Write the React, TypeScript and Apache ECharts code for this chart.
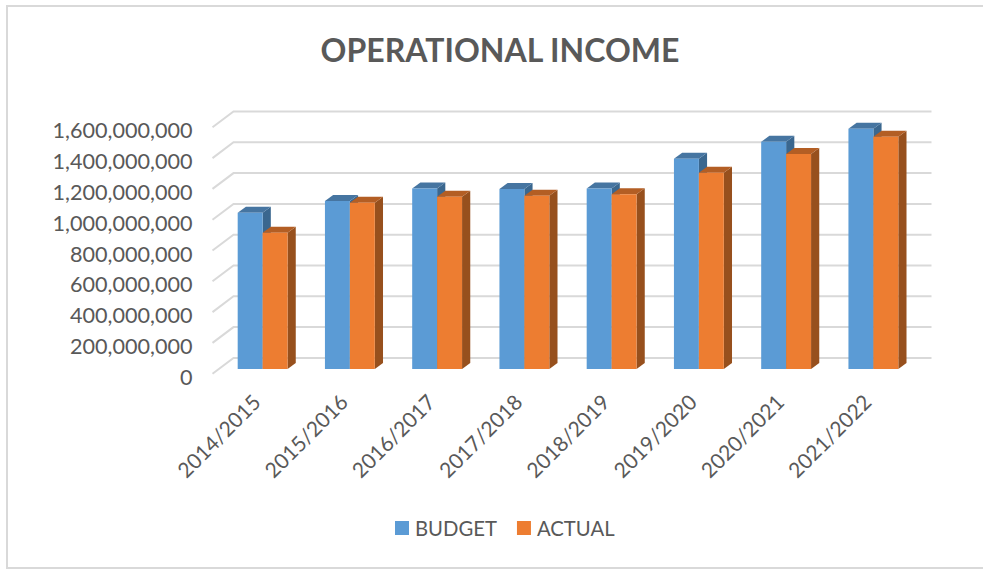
import React, { useEffect, useRef } from "react";
import * as echarts from "echarts";

const categories = ["2014/2015", "2015/2016", "2016/2017", "2017/2018", "2018/2019", "2019/2020", "2020/2021", "2021/2022"];
const budget = [1015000000, 1091000000, 1173000000, 1169000000, 1173000000, 1366000000, 1476000000, 1560000000];
const actual = [885000000, 1080000000, 1119000000, 1125000000, 1136000000, 1275000000, 1396000000, 1508000000];
const yTicks = [0, 200000000, 400000000, 600000000, 800000000, 1000000000, 1200000000, 1400000000, 1600000000];

const TEXT = "#595959";
const FONT = "Lato, 'Open Sans', sans-serif";

// Oblique projection of the 3D plot: wall depth and bar depth in pixels.
const WALL_DX = 21;
const WALL_DY = -15.8;
const BAR_PLANE_DX = 6.5;
const BAR_PLANE_DY = -4.6;
const BAR_DX = 8.2;
const BAR_DY = -6;
const BAR_BAND = 0.2858;

function barRenderer(side: 0 | 1, front: string, top: string, right: string) {
  return (_params: any, api: any) => {
    const i = api.value(0);
    const v = api.value(1);
    const topPt = api.coord([i, v]);
    const basePt = api.coord([i, 0]);
    const w = api.size([1, 0])[0] * BAR_BAND;
    const x0 = topPt[0] + BAR_PLANE_DX + (side === 0 ? -w : 0);
    const x1 = x0 + w;
    const yT = topPt[1] + BAR_PLANE_DY + 0;
    const yB = basePt[1] + BAR_PLANE_DY;
    return {
      type: "group",
      children: [
        { type: "polygon", shape: { points: [[x1, yT], [x1 + BAR_DX, yT + BAR_DY], [x1 + BAR_DX, yB + BAR_DY], [x1, yB]] }, style: { fill: right } },
        { type: "polygon", shape: { points: [[x0, yT], [x0 + BAR_DX, yT + BAR_DY], [x1 + BAR_DX, yT + BAR_DY], [x1, yT]] }, style: { fill: top } },
        { type: "rect", shape: { x: x0, y: yT, width: w, height: yB - yT }, style: { fill: front } },
      ],
    };
  };
}

function gridRenderer(params: any, api: any) {
  const v = api.value(0);
  const cs = params.coordSys;
  const y = api.coord([0, v])[1];
  return {
    type: "polyline",
    shape: { points: [[cs.x, y], [cs.x + WALL_DX, y + WALL_DY], [cs.x + cs.width + WALL_DX, y + WALL_DY]] },
    style: { stroke: "#D9D9D9", lineWidth: 2, fill: "none" },
  };
}

export default function App() {
  const ref = useRef<HTMLDivElement>(null);
  useEffect(() => {
    const chart = echarts.init(ref.current!, undefined, { renderer: "svg" });
    chart.setOption({
      animation: false,
      backgroundColor: "#FFFFFF",
      title: {
        text: "OPERATIONAL INCOME",
        left: 495,
        top: 28,
        textAlign: "center",
        textStyle: { color: TEXT, fontFamily: FONT, fontWeight: "bold", fontSize: 32 },
      },
      legend: {
        data: ["BUDGET", "ACTUAL"],
        left: 390,
        top: 513,
        icon: "rect",
        itemWidth: 14,
        itemHeight: 14,
        itemGap: 20,
        textStyle: { color: TEXT, fontFamily: FONT, fontSize: 20.3, padding: [0, 0, 0, 1] },
      },
      grid: { left: 212.5, top: 127.3, width: 698, height: 246.4 },
      xAxis: {
        type: "category",
        data: categories,
        axisLine: { show: false },
        axisTick: { show: false },
        axisLabel: { interval: 0, rotate: 45, margin: 24, color: TEXT, fontFamily: FONT, fontSize: 21 },
      },
      yAxis: {
        type: "value",
        min: 0,
        max: 1600000000,
        interval: 200000000,
        axisLine: { show: false },
        axisTick: { show: false },
        splitLine: { show: false },
        axisLabel: {
          margin: 20,
          color: TEXT,
          fontFamily: FONT,
          fontSize: 21.6,
          verticalAlign: "top",
          lineHeight: 6,
          formatter: (v: number) => v.toLocaleString("en-US"),
        },
      },
      graphic: [
        { type: "line", silent: true, shape: { x1: 7, y1: 6, x2: 7, y2: 568 }, style: { stroke: "#D9D9D9", lineWidth: 2 } },
        { type: "line", silent: true, shape: { x1: 6, y1: 6, x2: 983, y2: 6 }, style: { stroke: "#D9D9D9", lineWidth: 2 } },
        { type: "line", silent: true, shape: { x1: 6, y1: 568, x2: 983, y2: 568 }, style: { stroke: "#D9D9D9", lineWidth: 2 } },
      ],
      series: [
        {
          type: "custom",
          name: "gridlines",
          silent: true,
          clip: false,
          z: 1,
          encode: { y: 0 },
          data: yTicks.map((v) => [v]),
          renderItem: gridRenderer,
        },
        {
          type: "custom",
          name: "BUDGET",
          clip: false,
          z: 2,
          itemStyle: { color: "#5B9BD5" },
          encode: { x: 0, y: 1 },
          data: budget.map((v, i) => [i, v]),
          renderItem: barRenderer(0, "#5B9BD5", "#4675A1", "#3A678F"),
        },
        {
          type: "custom",
          name: "ACTUAL",
          clip: false,
          z: 3,
          itemStyle: { color: "#ED7D31" },
          encode: { x: 0, y: 1 },
          data: actual.map((v, i) => [i, v]),
          renderItem: barRenderer(1, "#ED7D31", "#B35E24", "#97501D"),
        },
      ],
    });
    return () => chart.dispose();
  }, []);
  return <div ref={ref} style={{ position: "fixed", left: 0, top: 0, width: 983, height: 569 }} />;
}
